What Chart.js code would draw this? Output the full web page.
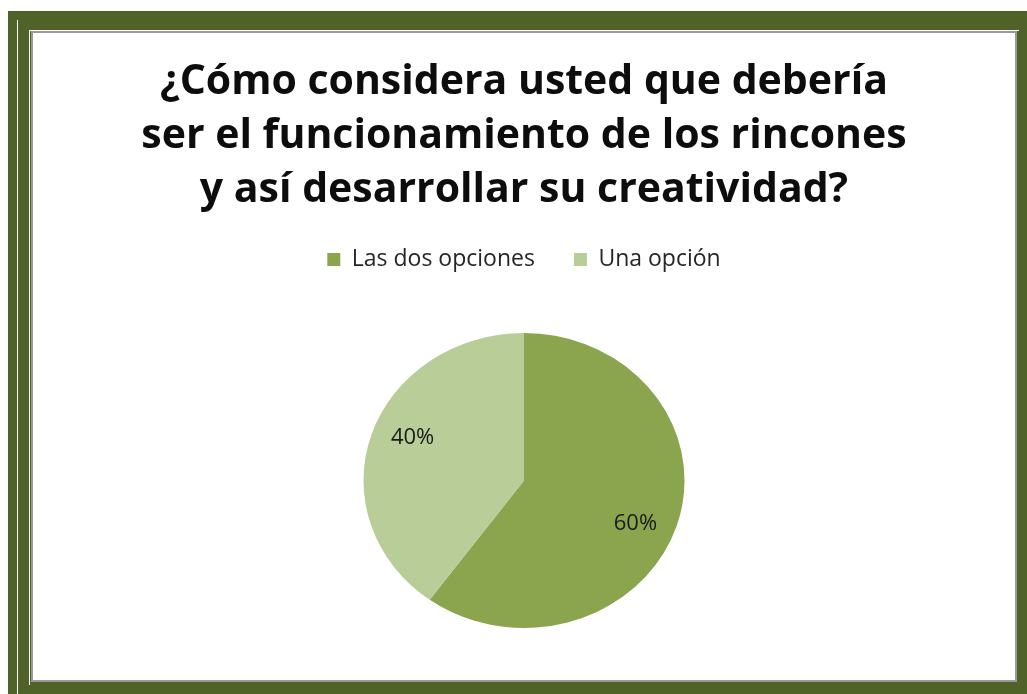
<!DOCTYPE html>
<html>
<head>
<meta charset="utf-8">
<script src="https://cdn.jsdelivr.net/npm/chart.js@4/dist/chart.umd.min.js"></script>
<style>
  html, body { margin: 0; padding: 0; background: #ffffff; width: 1027px; height: 694px; overflow: hidden; }
  #frame { position: absolute; left: 8px; top: 11px; width: 1019px; height: 683px; background: #4f6228; }
  #line1 { position: absolute; left: 17px; top: 20px; width: 1px; height: 674px; background: #ffffff; }
  #line2 { position: absolute; left: 29px; top: 30px; width: 990px; height: 655px; border-left: 1px solid #ffffff; border-top: 1px solid #ffffff; box-sizing: border-box; }
  #panel { position: absolute; left: 31px; top: 31px; width: 986px; height: 651px; background: #9a9a9a; }
  #wrap { position: absolute; left: 33px; top: 33px; width: 982px; height: 647px; background: #ffffff; }
</style>
</head>
<body>
<div id="frame"></div>
<div id="line1"></div>
<div id="line2"></div>
<div id="panel"></div>
<div id="wrap"><canvas id="c" width="982" height="647"></canvas></div>
<script>
const titleLines = ["¿Cómo considera usted que debería", "ser el funcionamiento de los rincones", "y así desarrollar su creatividad?"];
const categories = ["Las dos opciones", "Una opción"];
const values = [60, 40];
const labelsText = ["60%", "40%"];
const colors = ["#8ba54f", "#b8cd97"];

const stretchX = 160.5 / 147.5;

const ellipsePlugin = {
  id: 'ellipse',
  beforeDatasetsDraw(chart) {
    const meta = chart.getDatasetMeta(0);
    const a = meta.data[0];
    const ctx = chart.ctx;
    ctx.save();
    ctx.translate(a.x, a.y);
    ctx.scale(stretchX, 1);
    ctx.translate(-a.x, -a.y);
  },
  afterDatasetsDraw(chart) {
    chart.ctx.restore();
    const meta = chart.getDatasetMeta(0);
    const ctx = chart.ctx;
    ctx.save();
    ctx.font = '22px "Open Sans", sans-serif';
    ctx.fillStyle = '#1a1a1a';
    ctx.textAlign = 'center';
    ctx.textBaseline = 'middle';
    meta.data.forEach((arc, i) => {
      const mid = (arc.startAngle + arc.endAngle) / 2;
      const r = arc.outerRadius * 0.73;
      const x = arc.x + Math.cos(mid) * r * stretchX;
      const y = arc.y + Math.sin(mid) * r * 1.3;
      ctx.fillText(labelsText[i], x, y);
    });
    ctx.restore();
  }
};

new Chart(document.getElementById('c'), {
  type: 'pie',
  data: {
    labels: categories,
    datasets: [{ data: values, backgroundColor: colors, borderWidth: 0, radius: 147.5 }]
  },
  options: {
    responsive: false,
    animation: false,
    layout: { padding: { top: 0, bottom: 0, left: 0, right: 0 } },
    plugins: {
      title: {
        display: true,
        text: titleLines,
        color: '#0d0d0d',
        font: { family: '"Open Sans", sans-serif', size: 41, weight: 'bold', lineHeight: 1.317 },
        padding: { top: 22, bottom: -8 }
      },
      legend: {
        position: 'top',
        labels: {
          color: '#262626',
          font: { family: '"Open Sans", sans-serif', size: 23 },
          boxWidth: 13, boxHeight: 13, padding: 39
        }
      },
      tooltip: { enabled: false }
    }
  },
  plugins: [ellipsePlugin]
});
</script>
</body>
</html>
